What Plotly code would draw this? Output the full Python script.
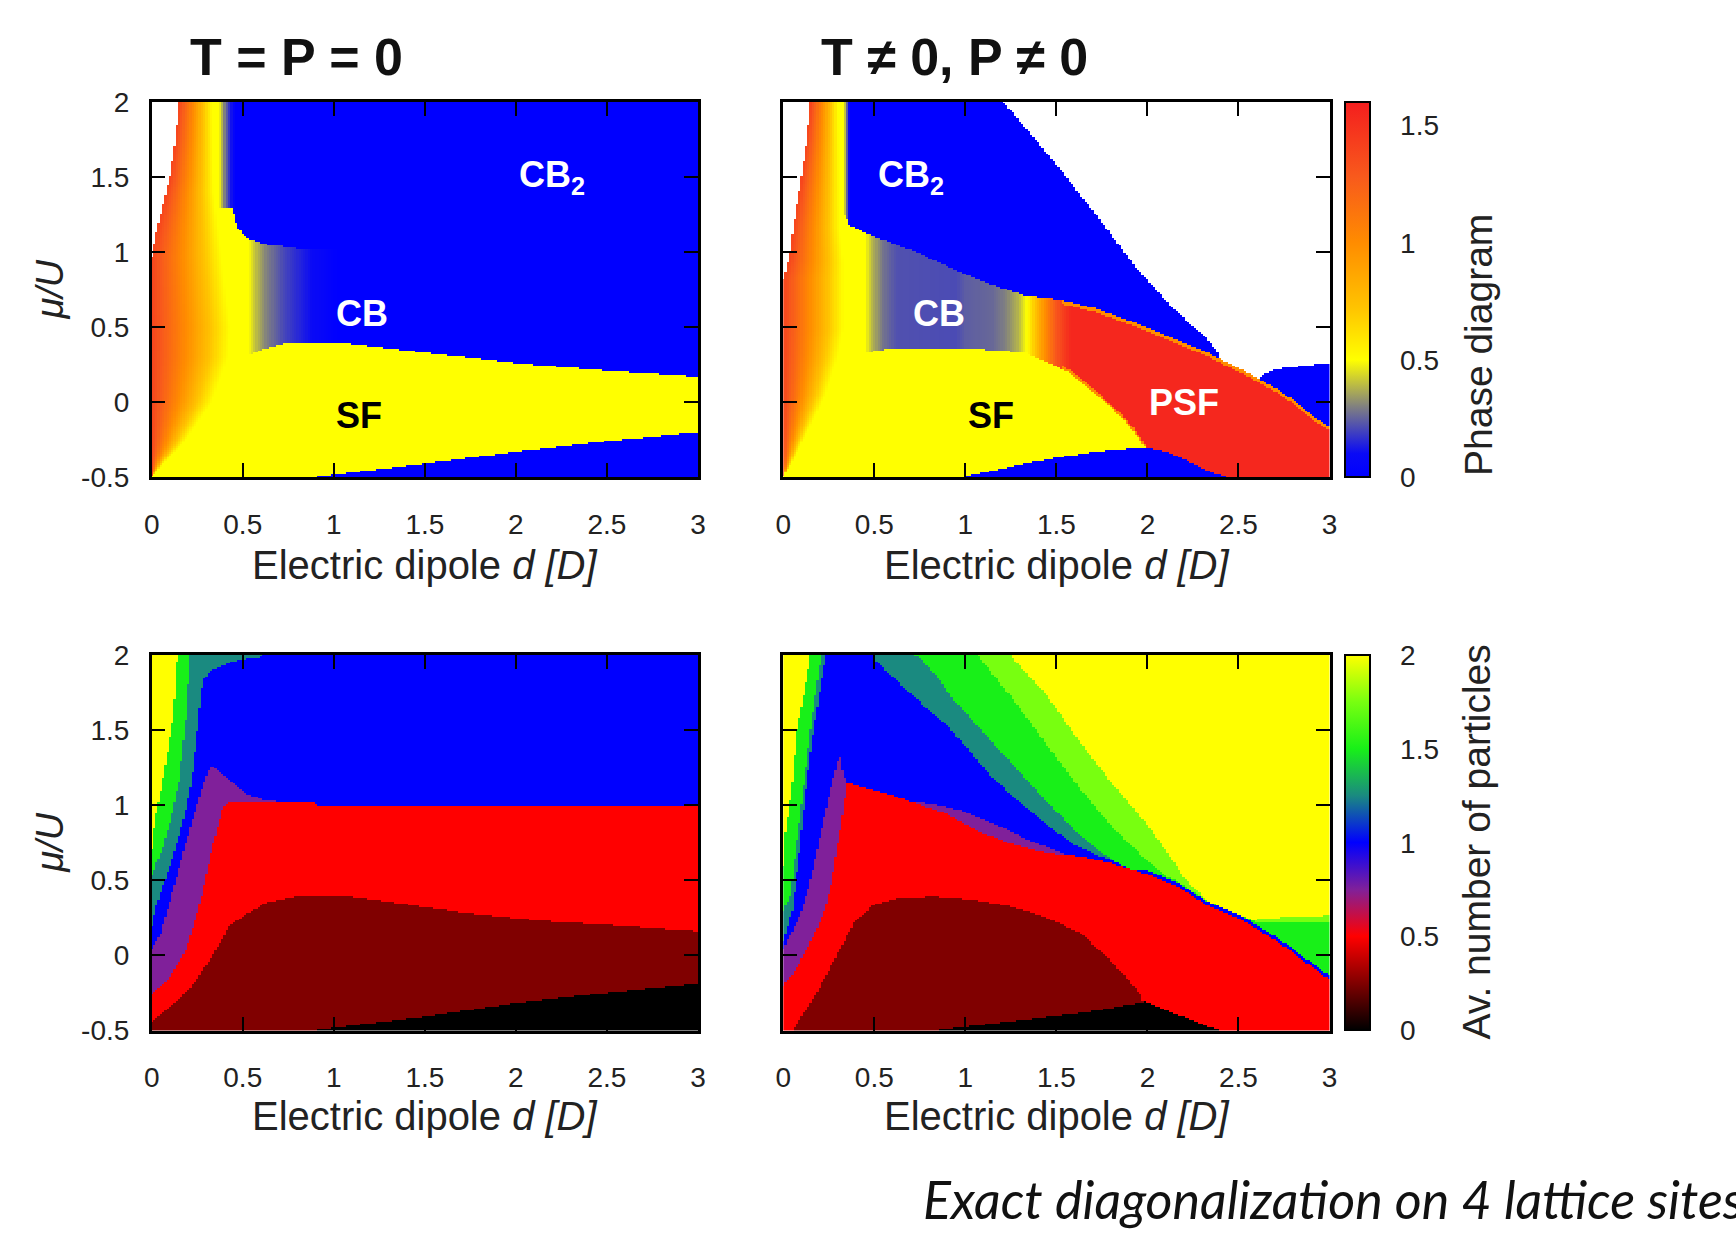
import numpy as np
import plotly.graph_objects as go

FONT = "Liberation Sans, Arial, Helvetica, sans-serif"
W, H = 1736, 1233

# ---------------- calculation grid ----------------
d_vals = np.linspace(0.0, 3.0, 241)      # electric dipole d [D]
mu_vals = np.linspace(-0.5, 2.0, 201)    # mu/U
x_ticks = [0, 0.5, 1, 1.5, 2, 2.5, 3]
x_ticktext = ["0", "0.5", "1", "1.5", "2", "2.5", "3"]
y_ticks = [-0.5, 0, 0.5, 1, 1.5, 2]
y_ticktext = ["-0.5", "0", "0.5", "1", "1.5", "2"]
cb1_ticks = [0, 0.5, 1, 1.5]
cb1_ticktext = ["0", "0.5", "1", "1.5"]
cb2_ticks = [0, 0.5, 1, 1.5, 2]
cb2_ticktext = ["0", "0.5", "1", "1.5", "2"]

# ================= T = P = 0 : phase diagram (top left) =================
tl_white_mu = [0.97, 1.1, 1.3, 1.5, 1.75, 2.0]
tl_white_d = [0.0, 0.02, 0.06, 0.10, 0.13, 0.15]
tl_band_mu = [-0.5, -0.4, -0.28, 0.0, 0.3, 0.5, 0.9, 1.4, 2.0]
tl_band_d = [0.0, 0.07, 0.17, 0.33, 0.42, 0.43, 0.39, 0.34, 0.33]
tl_low_d = [0.0, 0.88, 0.9, 1.5, 2.0, 2.5, 3.0]
tl_low_mu = [-0.6, -0.6, -0.5, -0.41, -0.33, -0.26, -0.2]
tl_up_d = [0.0, 0.5, 0.53, 0.6, 0.73, 0.9, 1.0, 1.5, 2.0, 2.5, 3.0]
tl_up_mu = [0.28, 0.28, 0.31, 0.35, 0.39, 0.4, 0.4, 0.33, 0.26, 0.21, 0.17]
tl_cb2_d = [0.0, 0.44, 0.47, 0.53, 0.63, 0.83, 1.13, 3.0]
tl_cb2_mu = [1.3, 1.3, 1.16, 1.09, 1.05, 1.02, 1.01, 1.0]
tl_cb_d = [0.0, 0.53, 0.57, 0.63, 0.73, 0.85, 0.95, 1.02, 3.0]
tl_cb_v = [0.5, 0.5, 0.4, 0.3, 0.2, 0.12, 0.05, 0.0, 0.0]
tl_h_d = [0.0, 0.37, 0.4, 0.46, 3.0]
tl_h_v = [0.5, 0.5, 0.3, 0.0, 0.0]

# ================= T != 0, P != 0 : phase diagram (top right) =================
tr_white_mu = [0.82, 0.95, 1.2, 1.5, 1.75, 2.0]
tr_white_d = [0.0, 0.03, 0.06, 0.10, 0.13, 0.15]
tr_band_mu = [-0.5, -0.42, -0.3, 0.04, 0.3, 0.49, 0.93, 1.16, 2.0]
tr_band_d = [0.0, 0.04, 0.09, 0.23, 0.30, 0.33, 0.33, 0.31, 0.30]
tr_low_d = [0.0, 0.97, 0.99, 1.33, 1.53, 1.73, 1.99, 2.13, 2.33, 2.43, 2.45, 3.0]
tr_low_mu = [-0.6, -0.6, -0.5, -0.41, -0.365, -0.33, -0.30, -0.34, -0.455, -0.5, -0.6, -0.6]
tr_up_d = [0.0, 0.45, 0.6, 1.0, 1.33, 1.57, 1.73, 1.85, 1.93, 1.99, 2.05, 3.0]
tr_up_mu = [0.33, 0.33, 0.36, 0.36, 0.33, 0.20, 0.04, -0.09, -0.20, -0.30, -0.6, -0.6]
tr_cb2_d = [0.0, 0.34, 0.36, 0.45, 0.53, 0.73, 0.93, 1.13, 1.33, 1.53, 1.73, 1.93, 2.13,
            2.33, 2.53, 2.73, 2.93, 3.0]
tr_cb2_mu = [1.25, 1.25, 1.18, 1.13, 1.09, 1.0, 0.89, 0.79, 0.71, 0.68, 0.62, 0.53, 0.43,
             0.33, 0.21, 0.08, -0.11, -0.16]
tr_cb_d = [0.0, 0.45, 0.49, 0.55, 0.62, 0.95, 1.0, 1.15, 1.22, 1.29, 1.34, 1.42, 1.5, 1.58, 3.0]
tr_cb_v = [0.5, 0.5, 0.38, 0.28, 0.22, 0.21, 0.24, 0.26, 0.3, 0.38, 0.5, 0.9, 1.3, 1.55, 1.55]
tr_h_d = [0.0, 0.33, 0.35, 0.37, 3.0]
tr_h_v = [0.5, 0.5, 0.25, 0.0, 0.0]
tr_top_d = [0.0, 1.0, 1.21, 1.33, 1.53, 1.73, 1.93, 2.13, 2.33, 2.39, 2.42, 2.6, 2.62, 2.7, 2.85, 3.0]
tr_top_mu = [3.0, 2.3, 2.0, 1.83, 1.54, 1.23, 0.91, 0.64, 0.42, 0.33, -0.6, -0.6, 0.17, 0.22, 0.24, 0.26]

# ================= T = P = 0 : particles (bottom left) =================
bl_black_d = [0.0, 0.88, 0.9, 1.5, 2.0, 2.5, 3.0]
bl_black_mu = [-0.6, -0.6, -0.5, -0.41, -0.32, -0.25, -0.19]
bl_dark_d = [0.0, 0.13, 0.23, 0.33, 0.43, 0.53, 0.63, 0.83, 1.03, 1.33, 1.73, 2.13, 2.53, 3.0]
bl_dark_mu = [-0.44, -0.32, -0.19, -0.01, 0.2, 0.28, 0.35, 0.4, 0.4, 0.35, 0.28, 0.23, 0.2, 0.16]
bl_red_d = [0.0, 0.09, 0.19, 0.27, 0.33, 0.39, 0.43, 0.89, 0.91, 3.0]
bl_red_mu = [-0.25, -0.16, 0.04, 0.37, 0.71, 0.98, 1.02, 1.02, 1.0, 1.0]
bl_purple_d = [0.0, 0.05, 0.13, 0.23, 0.3, 0.33, 0.45, 0.53, 0.63, 0.73, 0.75, 3.0]
bl_purple_mu = [0.04, 0.15, 0.49, 0.93, 1.2, 1.27, 1.14, 1.07, 1.03, 1.02, 0.9, 0.9]
bl_topteal_d = [0.0, 0.28, 0.33, 0.45, 0.6, 0.66, 3.0]
bl_topteal_mu = [2.5, 1.83, 1.9, 1.96, 1.99, 2.05, 2.05]
bl_yellow_mu = [0.71, 0.8, 0.98, 1.16, 1.38, 1.6, 2.0]
bl_yellow_d = [0.0, 0.006, 0.03, 0.06, 0.09, 0.12, 0.14]
bl_green_mu = [0.53, 0.6, 0.71, 0.93, 1.16, 1.6, 2.0]
bl_green_d = [0.0, 0.02, 0.06, 0.11, 0.15, 0.19, 0.21]
bl_teal_mu = [0.2, 0.31, 0.49, 0.71, 0.93, 1.16, 1.61, 1.83, 2.0]
bl_teal_d = [0.0, 0.02, 0.07, 0.13, 0.18, 0.22, 0.26, 0.28, 0.30]

# ================= T != 0, P != 0 : particles (bottom right) =================
br_black_d = [0.0, 0.83, 0.85, 1.33, 1.73, 1.99, 2.13, 2.39, 2.41, 3.0]
br_black_mu = [-0.6, -0.6, -0.5, -0.43, -0.37, -0.31, -0.38, -0.5, -0.6, -0.6]
br_dark_d = [0.0, 0.05, 0.17, 0.29, 0.39, 0.49, 0.63, 0.83, 1.03, 1.23, 1.43, 1.63, 1.77,
             1.87, 1.97, 2.02, 3.0]
br_dark_mu = [-0.52, -0.5, -0.28, -0.01, 0.22, 0.33, 0.38, 0.39, 0.37, 0.33, 0.26, 0.15, 0.0,
              -0.13, -0.27, -0.6, -0.6]
br_red_d = [0.0, 0.05, 0.13, 0.22, 0.26, 0.29, 0.32, 0.35, 0.53, 0.71, 0.90, 1.08, 1.26, 1.45,
            1.63, 1.81, 2.0, 2.18, 2.33, 2.53, 2.61, 2.73, 2.93, 3.0]
br_red_mu = [-0.2, -0.13, 0.04, 0.27, 0.45, 0.67, 0.89, 1.15, 1.09, 1.02, 0.94, 0.82, 0.74, 0.68,
             0.66, 0.61, 0.54, 0.45, 0.33, 0.23, 0.17, 0.08, -0.10, -0.16]
br_purple_d = [0.0, 0.09, 0.15, 0.2, 0.26, 0.31, 0.33, 0.35, 0.53, 0.71, 0.81, 0.99, 1.17, 1.36,
               1.54, 1.6, 3.0]
br_purple_mu = [0.04, 0.26, 0.5, 0.78, 1.11, 1.34, 1.2, 1.15, 1.09, 1.02, 1.01, 0.96, 0.87, 0.76,
                0.68, 0.6, -0.5]
br_teal_d = [0.0, 0.45, 0.51, 0.71, 0.90, 1.01, 1.15, 1.30, 1.45, 1.59, 1.72, 1.81, 2.0, 2.18,
             2.33, 2.53, 2.61, 2.73, 2.93, 3.0]
br_teal_mu = [2.2, 2.1, 1.96, 1.73, 1.53, 1.38, 1.18, 1.02, 0.87, 0.74, 0.67, 0.63, 0.565, 0.475,
              0.355, 0.255, 0.195, 0.105, -0.075, -0.135]
br_green_d = [0.0, 0.65, 0.75, 0.85, 0.93, 1.08, 1.26, 1.45, 1.63, 1.81, 1.9, 2.0, 2.18, 2.33,
              2.53, 2.61, 2.73, 2.93, 3.0]
br_green_mu = [2.3, 2.05, 1.98, 1.85, 1.71, 1.51, 1.27, 1.02, 0.80, 0.63, 0.575, 0.565, 0.475,
               0.355, 0.255, 0.195, 0.105, -0.075, -0.135]
br_lgreen_d = [0.0, 1.0, 1.08, 1.26, 1.45, 1.63, 1.81, 2.0, 2.09, 2.18, 2.33, 2.53, 2.58, 2.62, 3.0]
br_lgreen_mu = [2.4, 2.1, 1.98, 1.71, 1.40, 1.11, 0.85, 0.63, 0.54, 0.48, 0.36, 0.26, 0.23, 0.22, 0.22]
br_yellow_d = [0.0, 1.2, 1.26, 1.45, 1.63, 1.81, 2.0, 2.12, 2.2, 2.25, 2.33, 2.53, 2.58, 2.62, 2.85, 3.0]
br_yellow_mu = [2.5, 2.1, 1.98, 1.73, 1.42, 1.14, 0.87, 0.67, 0.52, 0.46, 0.36, 0.26, 0.23, 0.245, 0.255, 0.265]
br_lyellow_mu = [0.6, 0.8, 1.0, 1.16, 1.5, 1.78, 2.0]
br_lyellow_d = [0.0, 0.01, 0.035, 0.05, 0.075, 0.12, 0.15]
br_lgreenstrip_mu = [0.3, 0.4, 0.67, 1.0, 1.5, 1.78, 2.0]
br_lgreenstrip_d = [0.0, 0.04, 0.065, 0.10, 0.15, 0.18, 0.21]
br_lteal_mu = [0.1, 0.3, 0.6, 1.0, 1.5, 2.0]
br_lteal_d = [0.0, 0.05, 0.08, 0.115, 0.165, 0.235]

# ---------------- region values ----------------
V_SF, V_CB2, V_BAND_HI, V_RIM = 0.5, 0.0, 1.4, 1.0
V_BLACK, V_DARK, V_RED, V_PURPLE, V_BLUE = 0.0, 0.25, 0.5, 0.75, 1.0
V_TEAL, V_GREEN, V_LGREEN, V_YELLOW = 1.25, 1.5, 1.75, 2.0

D, M = np.meshgrid(d_vals, mu_vals)


def phase_grid(white_mu, white_d, band_mu, band_d, low_d, low_mu, up_d, up_mu,
               c_d, c_mu, g_d, g_v, h_d, h_v, top_d=None, top_mu=None):
    low = np.interp(D, low_d, low_mu)
    up = np.interp(D, up_d, up_mu)
    c = np.interp(D, c_d, c_mu)
    g = np.interp(D, g_d, g_v)
    h = np.interp(D, h_d, h_v)
    Z = np.where(M < c, g, h)
    rim = (g > 1.4) & (((M < c) & (M > c - 0.025)) | ((M >= up) & (M < up + 0.02)))
    Z = np.where(rim, V_RIM, Z)
    Z = np.where(M < up, V_SF, Z)
    Z = np.where(M < low, V_CB2, Z)
    if top_d is not None:
        top = np.interp(D, top_d, top_mu)
        Z = np.where((M >= c) & (M > top), np.nan, Z)
    wl = np.interp(M, white_mu, white_d, left=-1.0)
    r = np.interp(M, band_mu, band_d)
    w0 = np.maximum(wl, 0.0)
    t = np.clip((D - w0) / np.maximum(r - w0, 1e-6), 0, 1)
    Z = np.where(D < r, V_BAND_HI - (V_BAND_HI - V_SF) * t, Z)
    Z = np.where(D < wl, np.nan, Z)
    return Z


def particle_grid(k_d, k_mu, dr_d, dr_mu, r_d, r_mu, p_d, p_mu, upper, strips):
    Z = np.full(D.shape, V_BLUE)
    Z = np.where(M < np.interp(D, p_d, p_mu), V_PURPLE, Z)
    Z = np.where(M < np.interp(D, r_d, r_mu), V_RED, Z)
    Z = np.where(M < np.interp(D, dr_d, dr_mu), V_DARK, Z)
    Z = np.where(M < np.interp(D, k_d, k_mu), V_BLACK, Z)
    for xs, ys, val in upper:
        Z = np.where(M > np.interp(D, xs, ys), val, Z)
    for mus, ds, val in strips:
        Z = np.where(D < np.interp(M, mus, ds, left=-1.0), val, Z)
    return Z


z_tl = phase_grid(tl_white_mu, tl_white_d, tl_band_mu, tl_band_d, tl_low_d, tl_low_mu,
                  tl_up_d, tl_up_mu, tl_cb2_d, tl_cb2_mu, tl_cb_d, tl_cb_v, tl_h_d, tl_h_v)
z_tr = phase_grid(tr_white_mu, tr_white_d, tr_band_mu, tr_band_d, tr_low_d, tr_low_mu,
                  tr_up_d, tr_up_mu, tr_cb2_d, tr_cb2_mu, tr_cb_d, tr_cb_v, tr_h_d, tr_h_v,
                  tr_top_d, tr_top_mu)
z_bl = particle_grid(bl_black_d, bl_black_mu, bl_dark_d, bl_dark_mu, bl_red_d, bl_red_mu,
                     bl_purple_d, bl_purple_mu,
                     [(bl_topteal_d, bl_topteal_mu, V_TEAL)],
                     [(bl_teal_mu, bl_teal_d, V_TEAL), (bl_green_mu, bl_green_d, V_GREEN),
                      (bl_yellow_mu, bl_yellow_d, V_YELLOW)])
z_br = particle_grid(br_black_d, br_black_mu, br_dark_d, br_dark_mu, br_red_d, br_red_mu,
                     br_purple_d, br_purple_mu,
                     [(br_teal_d, br_teal_mu, V_TEAL), (br_green_d, br_green_mu, V_GREEN),
                      (br_lgreen_d, br_lgreen_mu, V_LGREEN), (br_yellow_d, br_yellow_mu, V_YELLOW)],
                     [(br_lteal_mu, br_lteal_d, V_TEAL), (br_lgreenstrip_mu, br_lgreenstrip_d, V_GREEN),
                      (br_lyellow_mu, br_lyellow_d, V_YELLOW)])

phase_scale = [[0.0, "#0000ff"], [0.0625, "#0a0af5"], [0.1875, "#808080"], [0.3125, "#ffff00"],
               [0.45, "#ffc400"], [0.625, "#ff8c00"], [0.8, "#f85a1c"], [1.0, "#f41e1e"]]
particle_scale = [[0.0, "#000000"], [0.125, "#800000"], [0.25, "#ff0000"], [0.375, "#80209a"],
                  [0.5, "#0000ff"], [0.625, "#1a8a80"], [0.75, "#18f018"], [0.875, "#78ff10"],
                  [1.0, "#ffff00"]]

fig = go.Figure()
for z, xa, ya, ca in [(z_tl, "x", "y", "coloraxis"), (z_tr, "x2", "y2", "coloraxis"),
                      (z_bl, "x3", "y3", "coloraxis2"), (z_br, "x4", "y4", "coloraxis2")]:
    fig.add_trace(go.Heatmap(x=d_vals, y=mu_vals, z=z, xaxis=xa, yaxis=ya, coloraxis=ca,
                             hoverinfo="skip"))

# ---------------- layout geometry (pixels -> paper) ----------------
def px(x):
    return x / W


def py(y):
    return 1 - y / H


colL = [px(151.7), px(698.0)]
colR = [px(783.3), px(1329.5)]
rowT = [py(477.2), py(102.0)]
rowB = [py(1030.5), py(655.0)]

tickfont = dict(family=FONT, size=28, color="#222222")


def xaxis(domain, anchor):
    return dict(domain=domain, anchor=anchor, range=[0, 3], tickvals=x_ticks, ticktext=x_ticktext,
                showline=True, linecolor="black", linewidth=2.5, mirror="allticks",
                ticks="inside", ticklen=14, tickwidth=2, tickcolor="black", showgrid=False,
                zeroline=False, tickfont=tickfont, ticklabelstandoff=20, automargin=False)


def yaxis(domain, anchor, labels):
    return dict(domain=domain, anchor=anchor, range=[-0.5, 2], tickvals=y_ticks, ticktext=y_ticktext,
                showline=True, linecolor="black", linewidth=2.5, mirror="allticks",
                ticks="inside", ticklen=14, tickwidth=2, tickcolor="black", showgrid=False,
                zeroline=False, tickfont=tickfont, showticklabels=labels, ticklabelstandoff=14,
                automargin=False)


def cbar(ycenter, tv, tt):
    return dict(x=px(1345), xanchor="left", y=ycenter, yanchor="middle", len=375, lenmode="pixels",
                thickness=25, outlinewidth=2, outlinecolor="black", tickvals=tv, ticktext=tt,
                ticks="outside", ticklen=24, tickcolor="rgba(0,0,0,0)", tickfont=tickfont,
                xpad=0, ypad=0)


fig.update_layout(
    template="none",
    width=W, height=H, margin=dict(l=0, r=0, t=0, b=0, pad=0, autoexpand=False),
    paper_bgcolor="white", plot_bgcolor="white",
    font=dict(family=FONT, color="#111111"),
    xaxis=xaxis(colL, "y"), yaxis=yaxis(rowT, "x", True),
    xaxis2=xaxis(colR, "y2"), yaxis2=yaxis(rowT, "x2", False),
    xaxis3=xaxis(colL, "y3"), yaxis3=yaxis(rowB, "x3", True),
    xaxis4=xaxis(colR, "y4"), yaxis4=yaxis(rowB, "x4", False),
    coloraxis=dict(colorscale=phase_scale, cmin=0, cmax=1.6,
                   colorbar=cbar(py(289.6), cb1_ticks, cb1_ticktext)),
    coloraxis2=dict(colorscale=particle_scale, cmin=0, cmax=2,
                    colorbar=cbar(py(842.8), cb2_ticks, cb2_ticktext)),
)

ann = []
# panel titles
ann.append(dict(text="<b>T = P = 0</b>", x=px(188), y=py(57), xanchor="left", yanchor="middle",
                font=dict(size=52, color="#111111")))
ann.append(dict(text="<b>T \u2260 0, P \u2260 0</b>", x=px(819), y=py(57), xanchor="left",
                yanchor="middle", font=dict(size=52, color="#111111")))
# x axis titles
for xc in [(colL[0] + colL[1]) / 2, (colR[0] + colR[1]) / 2]:
    for yc in [py(565), py(1116)]:
        ann.append(dict(text="Electric dipole <i>d [D]</i>", x=xc, y=yc, xanchor="center",
                        yanchor="middle", font=dict(size=40, color="#222222")))
# y axis titles
for yc in [(rowT[0] + rowT[1]) / 2, (rowB[0] + rowB[1]) / 2]:
    ann.append(dict(text="<i>\u03bc/U</i>", x=px(50), y=yc, textangle=-90, xanchor="center",
                    yanchor="middle", font=dict(size=38, color="#222222")))
# colorbar titles
ann.append(dict(text="Phase diagram", x=px(1478), y=py(345), textangle=-90, xanchor="center",
                yanchor="middle", font=dict(size=39, color="#222222")))
ann.append(dict(text="Av. number of particles", x=px(1476), y=py(842.5), textangle=-90,
                xanchor="center", yanchor="middle", font=dict(size=39, color="#222222")))
# phase labels
labels = [("x", "y", 2.2, 1.5, "CB<sub>2</sub>", "white"), ("x", "y", 1.155, 0.59, "CB", "white"),
          ("x", "y", 1.14, -0.09, "SF", "black"),
          ("x2", "y2", 0.70, 1.5, "CB<sub>2</sub>", "white"), ("x2", "y2", 0.855, 0.59, "CB", "white"),
          ("x2", "y2", 1.14, -0.09, "SF", "black"), ("x2", "y2", 2.2, 0.0, "PSF", "white")]
for xr, yr, xv, yv, txt, col in labels:
    ann.append(dict(text="<b>" + txt + "</b>", x=xv, y=yv, xref=xr, yref=yr, showarrow=False,
                    xanchor="center", yanchor="middle", font=dict(size=36, color=col)))
# caption
ann.append(dict(text="<i>Exact diagonalization on 4 lattice sites</i>", x=px(921), y=py(1199),
                xanchor="left", yanchor="middle",
                font=dict(family="Lato, Open Sans, sans-serif", size=52, color="#111111")))

for a in ann:
    a.setdefault("xref", "paper")
    a.setdefault("yref", "paper")
    a["showarrow"] = False
fig.update_layout(annotations=ann)

fig.write_html("out.html", config={"displayModeBar": False},
               post_script="document.body.style.margin='0px';document.body.style.overflow='hidden';")
